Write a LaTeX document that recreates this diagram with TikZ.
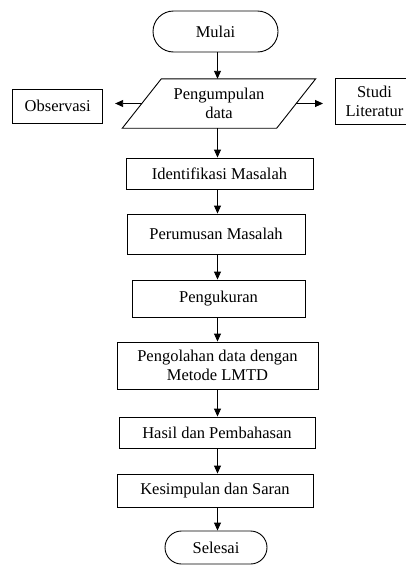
\documentclass[tikz,border=0pt]{standalone}
\usepackage{fontspec}
\setmainfont{Liberation Serif}
\usetikzlibrary{arrows.meta}
\begin{document}
\begin{tikzpicture}[x=1pt,y=-1pt,
  every node/.style={font=\fontsize{16.5}{18.5}\selectfont, inner sep=0pt, text=black},
  box/.style={draw=black, line width=0.9pt, rectangle},
  term/.style={box, rounded corners=#1},
  arr/.style={-{Triangle[length=8pt,width=7pt]}, line width=0.9pt},
  harr/.style={arr, shorten >=12pt},
]
\useasboundingbox (0,0) rectangle (406,565);
\coordinate (ax) at (217.5,0);

\node[term=20.5pt, minimum width=125pt, minimum height=41pt] (mulai) at (215.5,31.5) {Mulai};
\node[minimum width=154pt, minimum height=49pt, align=center] (pg) at (219,103.5) {Pengumpulan\\data};
\draw[line width=0.9pt] ([xshift=-19.5pt]pg.south west) -- ([xshift=-19.5pt]pg.south east)
  -- ([xshift=19.5pt]pg.north east) -- ([xshift=19.5pt]pg.north west) -- cycle;
\node[box, minimum width=90pt, minimum height=34pt] (obs) at (57.7,106) {Observasi};
\node[box, anchor=west, minimum height=45.5pt, text width=62pt, align=center, inner xsep=8pt] (studi) at (335,101.3) {Studi\\Literatur};

\node[box, minimum width=187pt, minimum height=31pt] (ident) at (219.5,173.5) {Identifikasi Masalah};
\node[box, minimum width=178pt, minimum height=40pt] (perum) at (216,234) {Perumusan Masalah};
\node[box, minimum width=173pt, minimum height=37pt] (ukur) at (218.5,298.5) {Pengukuran};
\node[box, minimum width=201pt, minimum height=47pt, align=center] (olah) at (217.5,365.5) {Pengolahan data dengan\\Metode LMTD};
\node[box, minimum width=196pt, minimum height=31pt] (hasil) at (217,432.5) {Hasil dan Pembahasan};
\node[box, minimum width=196pt, minimum height=33pt] (kes) at (215,490.5) {Kesimpulan dan Saran};
\node[term=16.5pt, minimum width=102pt, minimum height=33pt] (sel) at (216,547.5) {Selesai};

\draw[arr] (mulai.south -| ax) -- (pg.north -| ax);
\draw[harr] (pg.west) -- (pg.west -| obs.east);
\draw[harr] (pg.east) -- (pg.east -| studi.west);
\draw[arr] (pg.south -| ax) -- (ident.north -| ax);
\draw[arr] (ident.south -| ax) -- (perum.north -| ax);
\draw[arr] (perum.south -| ax) -- (ukur.north -| ax);
\draw[arr] (ukur.south -| ax) -- (olah.north -| ax);
\draw[arr] (olah.south -| ax) -- (hasil.north -| ax);
\draw[arr] (hasil.south -| ax) -- (kes.north -| ax);
\draw[arr] (kes.south -| ax) -- (sel.north -| ax);
\end{tikzpicture}
\end{document}
